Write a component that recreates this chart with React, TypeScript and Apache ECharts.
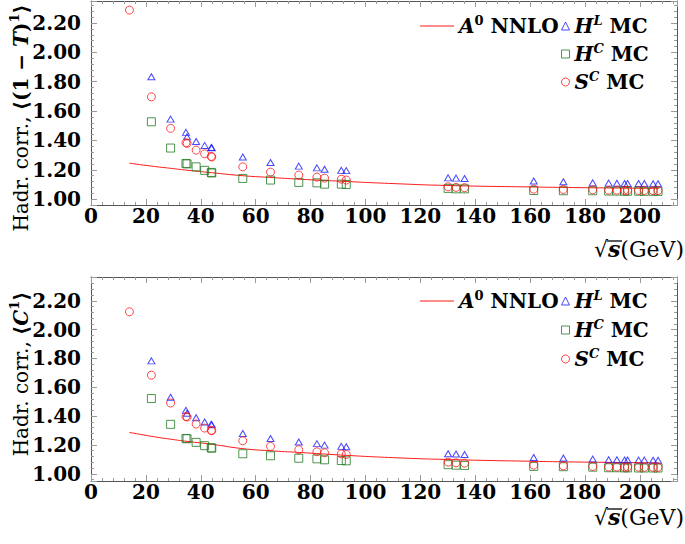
import React, { useEffect, useRef } from 'react';
import * as echarts from 'echarts';

// ---------- data ----------
const energies = [14, 22, 29, 34.6, 35, 38.3, 41.4, 43.8, 44, 55.3, 65.4, 75.7, 82.3, 85.1, 91.2, 93.0, 130.1, 133.0, 136.1, 161.3, 172.1, 182.8, 188.6, 191.6, 194.4, 195.5, 199.5, 201.6, 204.8, 206.6];

// Top panel: <(1-T)^1>
const thrustHL = [null, 1.834, 1.545, 1.455, 1.425, 1.393, 1.366, 1.352, 1.350, 1.287, 1.250, 1.225, 1.213, 1.204, 1.196, 1.194, 1.145, 1.143, 1.141, 1.123, 1.118, 1.111, 1.109, 1.108, 1.107, 1.107, 1.106, 1.106, 1.105, 1.105];
const thrustHC = [null, 1.527, 1.348, 1.243, 1.240, 1.220, 1.196, 1.182, 1.178, 1.141, 1.130, 1.114, 1.111, 1.102, 1.102, 1.100, 1.073, 1.070, 1.070, 1.059, 1.057, 1.057, 1.055, 1.055, 1.054, 1.054, 1.054, 1.053, 1.053, 1.053];
const thrustSC = [2.288, 1.697, 1.482, 1.384, 1.380, 1.334, 1.309, 1.291, 1.287, 1.220, 1.184, 1.164, 1.150, 1.143, 1.136, 1.130, 1.084, 1.080, 1.078, 1.068, 1.066, 1.064, 1.061, 1.061, 1.060, 1.060, 1.059, 1.059, 1.058, 1.058];

// Bottom panel: <C^1>
const cparHL = [null, 1.783, 1.531, 1.440, 1.420, 1.389, 1.359, 1.343, 1.340, 1.280, 1.245, 1.220, 1.209, 1.199, 1.190, 1.188, 1.139, 1.137, 1.134, 1.113, 1.109, 1.102, 1.097, 1.097, 1.096, 1.096, 1.095, 1.095, 1.094, 1.094];
const cparHC = [null, 1.522, 1.343, 1.245, 1.243, 1.218, 1.195, 1.180, 1.178, 1.139, 1.125, 1.108, 1.104, 1.097, 1.092, 1.090, 1.063, 1.060, 1.058, 1.051, 1.049, 1.046, 1.042, 1.042, 1.041, 1.041, 1.040, 1.040, 1.040, 1.040];
const cparSC = [2.124, 1.684, 1.491, 1.397, 1.394, 1.345, 1.317, 1.301, 1.299, 1.229, 1.190, 1.167, 1.153, 1.146, 1.138, 1.134, 1.081, 1.076, 1.074, 1.060, 1.055, 1.051, 1.047, 1.047, 1.046, 1.046, 1.046, 1.045, 1.045, 1.045];

// A0 NNLO curves
const curveEnergies = [14, 22, 29, 35, 44, 55, 65, 76, 91, 110, 130, 160, 180, 207];
const thrustA0 = [1.245, 1.225, 1.210, 1.197, 1.180, 1.160, 1.148, 1.136, 1.122, 1.106, 1.093, 1.083, 1.078, 1.073];
const cparA0 = [1.287, 1.260, 1.240, 1.225, 1.205, 1.175, 1.160, 1.148, 1.130, 1.112, 1.099, 1.087, 1.081, 1.076];

// tick labels
const xTickLabels = ['0', '20', '40', '60', '80', '100', '120', '140', '160', '180', '200'];
const yTickLabels = ['1.00', '1.20', '1.40', '1.60', '1.80', '2.00', '2.20'];

// ---------- styles ----------
const SERIF = 'DejaVu Serif';
const RED = '#ff1a1a';
const BLUE = '#1a1aff';
const GREEN = '#237a23';
const AXIS = '#555555';
const TICK = '#9a9a9a';
const FS = 20;

const pairs = (xs: number[], ys: (number | null)[]) =>
  xs.map((x, i) => [x, ys[i]]).filter((p) => p[1] !== null);

const legendRich = {
  it: { fontFamily: SERIF, fontWeight: 'bold', fontStyle: 'italic', fontSize: FS, lineHeight: 24, color: '#000' },
  b: { fontFamily: SERIF, fontWeight: 'bold', fontSize: FS, lineHeight: 24, color: '#000' },
  sup: { fontFamily: SERIF, fontWeight: 'bold', fontSize: 13, lineHeight: 15, verticalAlign: 'top', color: '#000' },
  supi: { fontFamily: SERIF, fontWeight: 'bold', fontStyle: 'italic', fontSize: 13, lineHeight: 15, verticalAlign: 'top', color: '#000' },
};

const legendFormatter = (name: string) => {
  if (name === 'A0 NNLO') return '{it|A}{sup|0}{b| NNLO}';
  if (name === 'HL MC') return '{it|H}{supi|L}{b| MC}';
  if (name === 'HC MC') return '{it|H}{supi|C}{b| MC}';
  return '{it|S}{supi|C}{b| MC}';
};

const TFS = 20;
const titleRich = {
  r: { fontFamily: SERIF, fontSize: TFS, lineHeight: 26, color: '#000' },
  m: { fontFamily: SERIF, fontWeight: 'bold', fontSize: TFS, lineHeight: 26, color: '#000' },
  mi: { fontFamily: SERIF, fontWeight: 'bold', fontStyle: 'italic', fontSize: TFS, lineHeight: 26, color: '#000' },
  sup: { fontFamily: SERIF, fontWeight: 'bold', fontSize: 13, lineHeight: 16, verticalAlign: 'top', color: '#000' },
};

const yFmt = (v: number) => {
  const s = v.toFixed(2);
  return yTickLabels.includes(s) && Math.abs(v - Number(s)) < 1e-6 ? s : '';
};
const xFmt = (v: number) => (xTickLabels.includes(String(v)) ? String(v) : '');

function axesFor(gridIndex: number, yMin: number, yMax: number) {
  const tick = { show: true, inside: true, length: 6, lineStyle: { color: TICK, width: 1 } };
  const minor = { show: true, splitNumber: 5, length: 3, lineStyle: { color: TICK, width: 1 } };
  const line = { show: true, onZero: false, lineStyle: { color: AXIS, width: 1 } };
  const label = { fontFamily: SERIF, fontWeight: 'bold', fontSize: FS, color: '#000' };
  const xBase = { type: 'value', gridIndex, min: 0, max: 213.5, interval: 20, splitLine: { show: false }, axisLine: line, axisTick: tick, minorTick: minor };
  const yBase = { type: 'value', gridIndex, min: yMin, max: yMax, minInterval: 0.2, maxInterval: 0.2, splitNumber: 7, splitLine: { show: false }, axisLine: line, axisTick: tick, minorTick: minor };
  return {
    x: [
      { ...xBase, position: 'bottom', axisLabel: { ...label, margin: 1, formatter: xFmt, showMaxLabel: false } },
      { ...xBase, position: 'top', axisLabel: { show: false } },
    ],
    y: [
      { ...yBase, position: 'left', axisLabel: { ...label, margin: 10, formatter: yFmt, showMinLabel: false, showMaxLabel: false } },
      { ...yBase, position: 'right', axisLabel: { show: false } },
    ],
  };
}

function seriesFor(xi: number, yi: number, a0: number[], hl: (number | null)[], hc: (number | null)[], sc: (number | null)[]) {
  return [
    {
      name: 'A0 NNLO', type: 'line', xAxisIndex: xi, yAxisIndex: yi, smooth: true, symbol: 'none',
      lineStyle: { color: RED, width: 1 }, itemStyle: { color: RED }, data: pairs(curveEnergies, a0), z: 2,
    },
    {
      name: 'HL MC', type: 'scatter', xAxisIndex: xi, yAxisIndex: yi, symbol: 'triangle', symbolSize: [7, 6],
      itemStyle: { color: 'transparent', borderColor: BLUE, borderWidth: 1 }, data: pairs(energies, hl), z: 3,
    },
    {
      name: 'HC MC', type: 'scatter', xAxisIndex: xi, yAxisIndex: yi, symbol: 'rect', symbolSize: 8,
      itemStyle: { color: 'transparent', borderColor: GREEN, borderWidth: 1 }, data: pairs(energies, hc), z: 3,
    },
    {
      name: 'SC MC', type: 'scatter', xAxisIndex: xi, yAxisIndex: yi, symbol: 'circle', symbolSize: 8,
      itemStyle: { color: 'transparent', borderColor: RED, borderWidth: 1 }, data: pairs(energies, sc), z: 4,
    },
  ];
}

function legendsFor(top: number, gap: number) {
  const common = { selectedMode: false, formatter: legendFormatter, textStyle: { rich: legendRich }, padding: 0 };
  return [
    {
      ...common, left: 420, top, itemWidth: 34, itemHeight: 1.2,
      data: [{ name: 'A0 NNLO', icon: 'rect', itemStyle: { color: RED, borderWidth: 0 } }],
    },
    {
      ...common, left: 561, top, orient: 'vertical', itemWidth: 8, itemHeight: 8, itemGap: gap,
      data: [
        { name: 'HL MC', icon: 'triangle', itemStyle: { color: 'transparent', borderColor: BLUE, borderWidth: 1 } },
        { name: 'HC MC', icon: 'rect', itemStyle: { color: 'transparent', borderColor: GREEN, borderWidth: 1 } },
        { name: 'SC MC', icon: 'circle', itemStyle: { color: 'transparent', borderColor: RED, borderWidth: 1 } },
      ],
    },
  ];
}

function xTitle(yc: number) {
  return [
    {
      type: 'text', right: 1, top: yc - 13,
      style: { text: '{rad|√}{s|s}{r|(GeV)}', rich: {
        rad: { fontFamily: SERIF, fontSize: 22, lineHeight: 26, color: '#000' },
        s: { fontFamily: SERIF, fontWeight: 'bold', fontStyle: 'italic', fontSize: 22, lineHeight: 26, color: '#000' },
        r: { fontFamily: SERIF, fontSize: 22, lineHeight: 26, color: '#000' },
      } },
    },
    {
      type: 'line', shape: { x1: 607, y1: yc - 10, x2: 622, y2: yc - 10 },
      style: { stroke: '#000', lineWidth: 1.3 },
    },
  ];
}

export default function App() {
  const ref = useRef<HTMLDivElement>(null);
  useEffect(() => {
    if (!ref.current) return;
    const chart = echarts.init(ref.current, undefined, { renderer: 'svg' });
    const topAxes = axesFor(0, 0.96, 2.35);
    const botAxes = axesFor(1, 0.95, 2.365);
    chart.setOption({
      animation: false,
      backgroundColor: '#fff',
      grid: [
        { left: 91, top: 1, width: 586, height: 204 },
        { left: 91, top: 277, width: 586, height: 204 },
      ],
      xAxis: [...topAxes.x, ...botAxes.x],
      yAxis: [...topAxes.y, ...botAxes.y],
      legend: [...legendsFor(14, 6), ...legendsFor(289, 7)],
      series: [
        ...seriesFor(0, 0, thrustA0, thrustHL, thrustHC, thrustSC),
        ...seriesFor(2, 2, cparA0, cparHL, cparHC, cparSC),
      ],
      graphic: [
        {
          type: 'text', x: 21, y: 118, rotation: Math.PI / 2,
          style: { text: '{r|Hadr. corr., }{m|⟨(1 − }{mi|T}{m|)}{sup|1}{m|⟩}', rich: titleRich, align: 'center', verticalAlign: 'middle' },
        },
        {
          type: 'text', x: 21, y: 374, rotation: Math.PI / 2,
          style: { text: '{r|Hadr. corr., }{m|⟨}{mi|C}{sup|1}{m|⟩}', rich: titleRich, align: 'center', verticalAlign: 'middle' },
        },
        ...xTitle(251),
        ...xTitle(519),
      ],
    });
    return () => chart.dispose();
  }, []);
  return <div ref={ref} style={{ position: 'fixed', left: 0, top: 0, width: 685, height: 544 }} />;
}
